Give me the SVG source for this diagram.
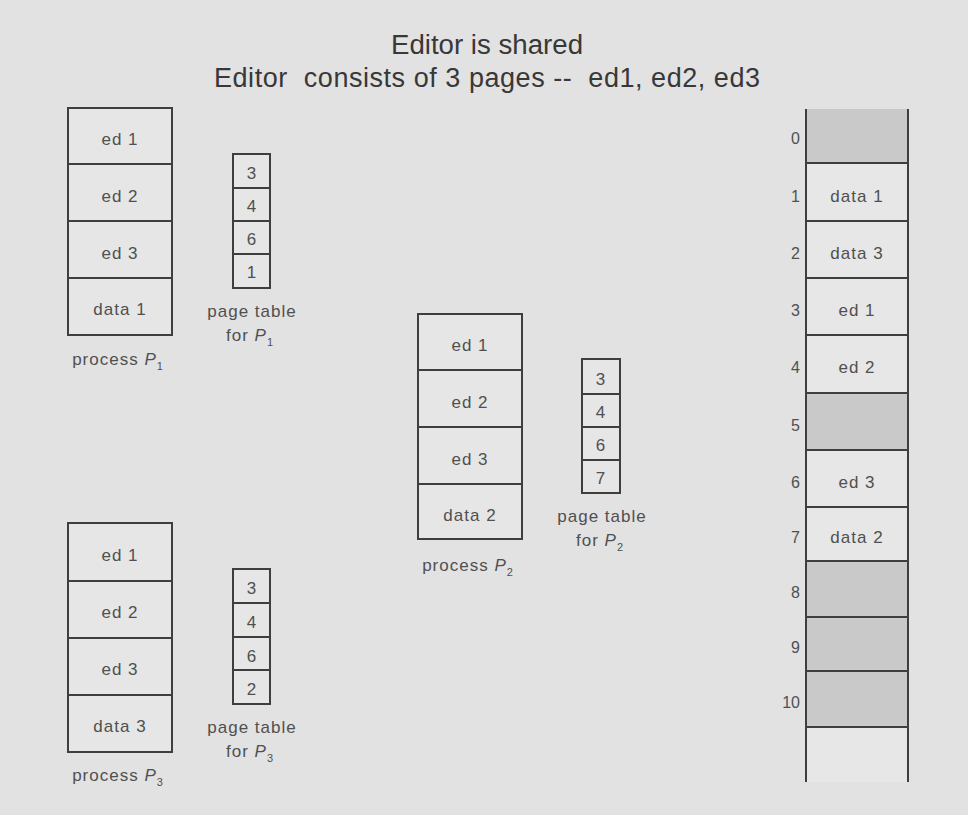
<svg xmlns="http://www.w3.org/2000/svg" width="968" height="815" viewBox="0 0 968 815">
<style>
.bg{fill:#e2e2e2}
.box{fill:#e6e6e6;stroke:#3e3e3e;stroke-width:2}
.free{fill:#c9c9c9;stroke:#3e3e3e;stroke-width:2}
.ln{stroke:#3e3e3e;stroke-width:2;fill:none}
.t{font-family:"Liberation Sans",Arial,sans-serif;font-size:17px;fill:#505050;letter-spacing:1px;text-anchor:middle}
.n{font-family:"Liberation Sans",Arial,sans-serif;font-size:16px;fill:#505050;text-anchor:end}
.title{font-family:"Liberation Sans",Arial,sans-serif;font-size:27px;fill:#383838;text-anchor:middle}
.it{font-style:italic}
.sub{font-size:11px}
</style>
<rect class="bg" x="0" y="0" width="968" height="815"/>

<g id="title">
<text class="title" x="487" y="54" textLength="192" lengthAdjust="spacingAndGlyphs">Editor is shared</text>
<text class="title" x="487" y="87" textLength="546" lengthAdjust="spacing" xml:space="preserve">Editor  consists of 3 pages --  ed1, ed2, ed3</text>
</g>

<g id="process-p1">
<rect class="box" x="68" y="108" width="104" height="227"/>
<line class="ln" x1="68" y1="164" x2="172" y2="164"/>
<line class="ln" x1="68" y1="221" x2="172" y2="221"/>
<line class="ln" x1="68" y1="278" x2="172" y2="278"/>
<text class="t" x="120" y="145">ed 1</text>
<text class="t" x="120" y="202">ed 2</text>
<text class="t" x="120" y="259">ed 3</text>
<text class="t" x="120" y="315">data 1</text>
<text class="t" x="118" y="365">process <tspan class="it">P</tspan><tspan class="sub" dy="5">1</tspan></text>
</g>

<g id="pagetable-p1">
<rect class="box" x="233" y="154" width="37" height="134"/>
<line class="ln" x1="233" y1="188" x2="270" y2="188"/>
<line class="ln" x1="233" y1="221" x2="270" y2="221"/>
<line class="ln" x1="233" y1="254" x2="270" y2="254"/>
<text class="t" x="252" y="179">3</text>
<text class="t" x="252" y="212">4</text>
<text class="t" x="252" y="245">6</text>
<text class="t" x="252" y="278">1</text>
<text class="t" x="252" y="317">page table</text>
<text class="t" x="250" y="341">for <tspan class="it">P</tspan><tspan class="sub" dy="5">1</tspan></text>
</g>

<g id="process-p2">
<rect class="box" x="418" y="314" width="104" height="225"/>
<line class="ln" x1="418" y1="370" x2="522" y2="370"/>
<line class="ln" x1="418" y1="427" x2="522" y2="427"/>
<line class="ln" x1="418" y1="484" x2="522" y2="484"/>
<text class="t" x="470" y="351">ed 1</text>
<text class="t" x="470" y="408">ed 2</text>
<text class="t" x="470" y="465">ed 3</text>
<text class="t" x="470" y="521">data 2</text>
<text class="t" x="468" y="571">process <tspan class="it">P</tspan><tspan class="sub" dy="5">2</tspan></text>
</g>

<g id="pagetable-p2">
<rect class="box" x="582" y="359" width="38" height="134"/>
<line class="ln" x1="582" y1="394" x2="620" y2="394"/>
<line class="ln" x1="582" y1="427" x2="620" y2="427"/>
<line class="ln" x1="582" y1="460" x2="620" y2="460"/>
<text class="t" x="601" y="385">3</text>
<text class="t" x="601" y="418">4</text>
<text class="t" x="601" y="451">6</text>
<text class="t" x="601" y="484">7</text>
<text class="t" x="602" y="522">page table</text>
<text class="t" x="600" y="546">for <tspan class="it">P</tspan><tspan class="sub" dy="5">2</tspan></text>
</g>

<g id="process-p3">
<rect class="box" x="68" y="523" width="104" height="229"/>
<line class="ln" x1="68" y1="581" x2="172" y2="581"/>
<line class="ln" x1="68" y1="638" x2="172" y2="638"/>
<line class="ln" x1="68" y1="695" x2="172" y2="695"/>
<text class="t" x="120" y="561">ed 1</text>
<text class="t" x="120" y="618">ed 2</text>
<text class="t" x="120" y="675">ed 3</text>
<text class="t" x="120" y="732">data 3</text>
<text class="t" x="118" y="781">process <tspan class="it">P</tspan><tspan class="sub" dy="5">3</tspan></text>
</g>

<g id="pagetable-p3">
<rect class="box" x="233" y="569" width="37" height="135"/>
<line class="ln" x1="233" y1="603" x2="270" y2="603"/>
<line class="ln" x1="233" y1="637" x2="270" y2="637"/>
<line class="ln" x1="233" y1="670" x2="270" y2="670"/>
<text class="t" x="252" y="594">3</text>
<text class="t" x="252" y="628">4</text>
<text class="t" x="252" y="662">6</text>
<text class="t" x="252" y="695">2</text>
<text class="t" x="252" y="733">page table</text>
<text class="t" x="250" y="757">for <tspan class="it">P</tspan><tspan class="sub" dy="5">3</tspan></text>
</g>

<g id="physical-memory">
<rect x="807" y="109" width="101" height="673" fill="#e7e7e7"/>
<rect x="807" y="109" width="101" height="54" fill="#c9c9c9"/>
<rect x="807" y="393" width="101" height="57" fill="#c9c9c9"/>
<rect x="807" y="561" width="101" height="166" fill="#c9c9c9"/>
<line class="ln" x1="806" y1="163" x2="908" y2="163"/>
<line class="ln" x1="806" y1="221" x2="908" y2="221"/>
<line class="ln" x1="806" y1="278" x2="908" y2="278"/>
<line class="ln" x1="806" y1="335" x2="908" y2="335"/>
<line class="ln" x1="806" y1="393" x2="908" y2="393"/>
<line class="ln" x1="806" y1="450" x2="908" y2="450"/>
<line class="ln" x1="806" y1="507" x2="908" y2="507"/>
<line class="ln" x1="806" y1="561" x2="908" y2="561"/>
<line class="ln" x1="806" y1="617" x2="908" y2="617"/>
<line class="ln" x1="806" y1="671" x2="908" y2="671"/>
<line class="ln" x1="806" y1="727" x2="908" y2="727"/>
<line class="ln" x1="806" y1="109" x2="806" y2="782"/>
<line class="ln" x1="908" y1="109" x2="908" y2="782"/>
<text class="t" x="857" y="202">data 1</text>
<text class="t" x="857" y="259">data 3</text>
<text class="t" x="857" y="316">ed 1</text>
<text class="t" x="857" y="373">ed 2</text>
<text class="t" x="857" y="488">ed 3</text>
<text class="t" x="857" y="543">data 2</text>
<text class="n" x="800" y="144">0</text>
<text class="n" x="800" y="202">1</text>
<text class="n" x="800" y="259">2</text>
<text class="n" x="800" y="316">3</text>
<text class="n" x="800" y="373">4</text>
<text class="n" x="800" y="431">5</text>
<text class="n" x="800" y="488">6</text>
<text class="n" x="800" y="543">7</text>
<text class="n" x="800" y="598">8</text>
<text class="n" x="800" y="653">9</text>
<text class="n" x="800" y="708">10</text>
</g>

<g id="connectors"/>
</svg>
